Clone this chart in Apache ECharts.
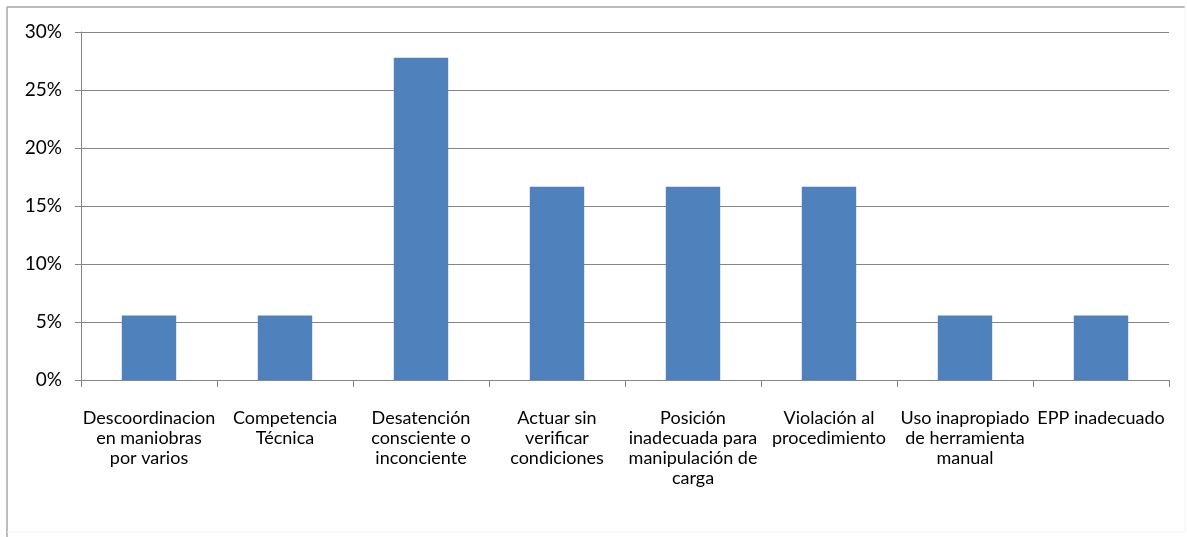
<!DOCTYPE html>
<html>
<head>
<meta charset="utf-8">
<script src="https://cdn.jsdelivr.net/npm/echarts@6/dist/echarts.min.js"></script>
<style>
  html, body { margin: 0; padding: 0; background: #fff; }
  #chart { width: 1187px; height: 537px; }
</style>
</head>
<body>
<div id="chart"></div>
<script>
// categorías (saltos de línea como en el original)
var categorias = [
    'Descoordinacion\nen maniobras\npor varios',
    'Competencia\nTécnica',
    'Desatención\nconsciente o\ninconciente',
    'Actuar sin\nverificar\ncondiciones',
    'Posición\ninadecuada para\nmanipulación de\ncarga',
    'Violación al\nprocedimiento',
    'Uso inapropiado\nde herramienta\nmanual',
    'EPP inadecuado'
];
// porcentaje por causa
var porcentajes = [5.56, 5.56, 27.78, 16.67, 16.67, 16.67, 5.56, 5.56];
var ejeY = { min: 0, max: 30, interval: 5 };

var fuente = 'Lato, "Open Sans", sans-serif';

var chart = echarts.init(document.getElementById('chart'));
var option = {
    animation: false,
    backgroundColor: '#fff',
    graphic: [
        { type: 'line', shape: { x1: 7, y1: 7, x2: 1185, y2: 7 }, style: { stroke: '#a6a6a6', lineWidth: 1.5 } },
        { type: 'line', shape: { x1: 7, y1: 7, x2: 7, y2: 537 }, style: { stroke: '#a6a6a6', lineWidth: 1.5 } },
        { type: 'line', shape: { x1: 1185, y1: 7, x2: 1185, y2: 532 }, style: { stroke: '#f2f2f2', lineWidth: 1 } },
        { type: 'line', shape: { x1: 7, y1: 532, x2: 1185, y2: 532 }, style: { stroke: '#f2f2f2', lineWidth: 1 } }
    ],
    grid: {
        left: 81,
        right: 18,
        top: 32,
        bottom: 157
    },
    xAxis: {
        type: 'category',
        data: categorias,
        axisLine: { lineStyle: { color: '#868686', width: 1 } },
        axisTick: { show: true, alignWithLabel: false, length: 7, lineStyle: { color: '#868686' } },
        axisLabel: {
            interval: 0,
            color: '#000',
            fontFamily: fuente,
            fontSize: 18,
            lineHeight: 20,
            margin: 28
        }
    },
    yAxis: {
        type: 'value',
        min: ejeY.min,
        max: ejeY.max,
        interval: ejeY.interval,
        axisLine: { show: true, lineStyle: { color: '#868686' } },
        axisTick: { show: true, length: 6, lineStyle: { color: '#868686' } },
        splitLine: { lineStyle: { color: '#868686', width: 1 } },
        axisLabel: {
            color: '#000',
            fontFamily: fuente,
            fontSize: 19,
            margin: 19,
            formatter: '{value}%'
        }
    },
    series: [{
        type: 'bar',
        data: porcentajes,
        barWidth: '40%',
        itemStyle: { color: '#4f81bd' }
    }]
};
chart.setOption(option);
</script>
</body>
</html>
